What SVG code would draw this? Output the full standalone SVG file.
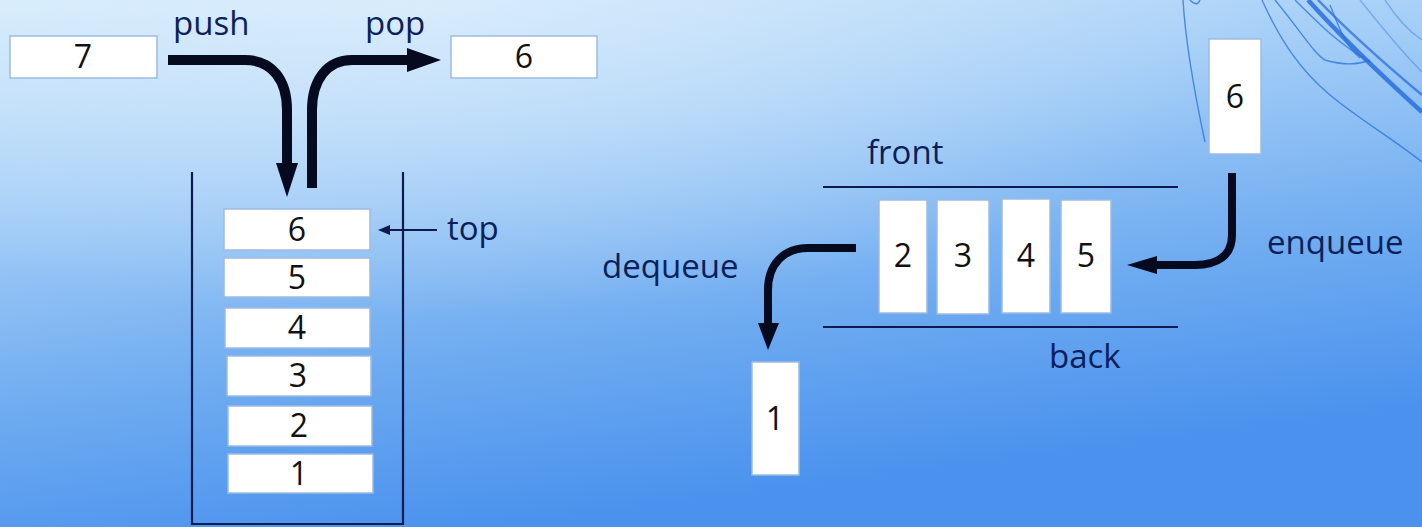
<svg xmlns="http://www.w3.org/2000/svg" width="1422" height="527" viewBox="0 0 1422 527">
<defs>
<linearGradient id="bg" x1="0" y1="0" x2="0.35" y2="1">
<stop offset="0" stop-color="#d3eafb"/>
<stop offset="0.35" stop-color="#a4cef7"/>
<stop offset="0.7" stop-color="#6eabf0"/>
<stop offset="1" stop-color="#4a92ee"/>
</linearGradient>
<radialGradient id="glow" cx="0.3" cy="0" r="0.6">
<stop offset="0" stop-color="#e4f2fd" stop-opacity="0.6"/>
<stop offset="1" stop-color="#e4f2fd" stop-opacity="0"/>
</radialGradient>
<style>
.box{fill:#ffffff;stroke:#9dbbe2;stroke-width:1.5}
.num{font-family:"Open Sans","Noto Sans",sans-serif;font-size:32px;fill:#111111;text-anchor:middle}
.lbl{font-family:"Open Sans","Noto Sans",sans-serif;font-size:33px;fill:#0c1f5a}
.thick{fill:none;stroke:#050a1e;stroke-width:10}
.mid{fill:none;stroke:#050a1e;stroke-width:8}
.head{fill:#050a1e}
.wall{fill:none;stroke:#0c1a50;stroke-width:2.2}
.swirl{fill:none;stroke:#2a6fdc;stroke-width:1.4;opacity:0.75}
</style>
</defs>
<rect width="1422" height="527" fill="url(#bg)"/>
<rect width="1422" height="527" fill="url(#glow)"/>
<g id="decor">
<path class="swirl" d="M1183,0 C1186,50 1196,100 1205,142"/>
<path class="swirl" d="M1190,0 C1195,5 1198,5 1200,0"/>
<path class="swirl" d="M1262,0 C1280,40 1300,70 1330,95 C1360,120 1395,140 1422,162"/>
<path class="swirl" d="M1275,0 C1300,30 1315,55 1325,60 C1345,66 1360,64 1370,60"/>
<path class="swirl" d="M1295,0 C1320,25 1340,45 1370,62"/>
<path class="swirl" d="M1308,0 C1335,30 1370,65 1422,112" style="stroke-width:4.5;opacity:0.85"/>
<path class="swirl" d="M1318,0 C1345,28 1380,60 1422,95" style="stroke-width:2.5"/>
<path class="swirl" d="M1330,5 C1340,30 1345,45 1360,58"/>
<path class="swirl" d="M1360,0 C1380,25 1400,50 1422,72" style="opacity:0.4"/>
<path class="swirl" d="M1385,0 C1398,20 1410,32 1422,40" style="opacity:0.4"/>
</g>
<g id="stack-container">
<path class="wall" d="M192,172 V524 H403 V172"/>
</g>
<g id="node-push-7"><rect class="box" x="10" y="36" width="147" height="42"/><text class="num" x="83" y="68">7</text></g>
<g id="node-pop-6"><rect class="box" x="451" y="36" width="146" height="42"/><text class="num" x="524" y="68">6</text></g>
<g id="node-s6"><rect class="box" x="224" y="209" width="146" height="41"/><text class="num" x="297" y="241">6</text></g>
<g id="node-s5"><rect class="box" x="224" y="258" width="146" height="39"/><text class="num" x="297" y="289">5</text></g>
<g id="node-s4"><rect class="box" x="225" y="308" width="145" height="40"/><text class="num" x="297" y="339">4</text></g>
<g id="node-s3"><rect class="box" x="227" y="356" width="144" height="40"/><text class="num" x="298" y="387">3</text></g>
<g id="node-s2"><rect class="box" x="228" y="406" width="144" height="40"/><text class="num" x="299" y="437">2</text></g>
<g id="node-s1"><rect class="box" x="228" y="454" width="145" height="39"/><text class="num" x="299" y="485">1</text></g>
<g id="labels-stack">
<text class="lbl" x="173" y="35">push</text>
<text class="lbl" x="365" y="35">pop</text>
<text class="lbl" x="447" y="240">top</text>
</g>
<g id="queue-rails">
<line class="wall" x1="823" y1="187" x2="1178" y2="187"/>
<line class="wall" x1="823" y1="327" x2="1178" y2="327"/>
</g>
<g id="node-q2"><rect class="box" x="879" y="200" width="48" height="113"/><text class="num" x="903" y="267">2</text></g>
<g id="node-q3"><rect class="box" x="937" y="200" width="52" height="114"/><text class="num" x="963" y="267">3</text></g>
<g id="node-q4"><rect class="box" x="1002" y="199" width="48" height="114"/><text class="num" x="1026" y="267">4</text></g>
<g id="node-q5"><rect class="box" x="1061" y="200" width="50" height="113"/><text class="num" x="1086" y="267">5</text></g>
<g id="node-q1"><rect class="box" x="752" y="362" width="47" height="113"/><text class="num" x="775" y="430">1</text></g>
<g id="node-q6"><rect class="box" x="1209" y="39" width="52" height="115"/><text class="num" x="1235" y="108">6</text></g>
<g id="labels-queue">
<text class="lbl" x="867" y="164">front</text>
<text class="lbl" x="1049" y="368">back</text>
<text class="lbl" x="602" y="278">dequeue</text>
<text class="lbl" x="1267" y="254">enqueue</text>
</g>
<g id="connectors">
<path class="thick" d="M168,60 H245 C272,60 287,80 287,110 V166"/>
<polygon class="head" points="276,163 298,163 287,197"/>
<path class="thick" d="M312,188 V110 C312,80 327,60 352,60 H410"/>
<polygon class="head" points="407,48 407,72 441,60"/>
<line x1="437" y1="230" x2="386" y2="230" stroke="#0c1a50" stroke-width="2"/>
<polygon points="378,230 390,225 390,235" fill="#0c1a50"/>
<path class="mid" d="M856,248 H808 C784,248 768,264 768,290 V326"/>
<polygon class="head" points="758,323 779,323 768,350"/>
<path class="mid" d="M1232,173 V235 C1232,256 1217,265 1195,265 H1154"/>
<polygon class="head" points="1157,256 1157,274 1127,265"/>
</g>
</svg>
